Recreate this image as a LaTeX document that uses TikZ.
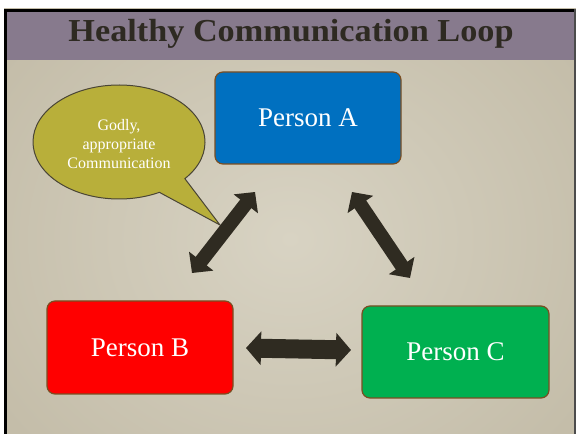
\documentclass[tikz,border=0pt]{standalone}
\usepackage{fontspec}
\setmainfont{Liberation Serif}
\usetikzlibrary{arrows.meta,shapes.geometric,calc}
\definecolor{bgbeige}{HTML}{D8D3C3}
\definecolor{bgedge}{HTML}{C4BDA9}
\definecolor{titlebar}{HTML}{877A8D}
\definecolor{titletext}{HTML}{2E2A22}
\definecolor{boxblue}{HTML}{0070C0}
\definecolor{boxred}{HTML}{FF0000}
\definecolor{boxgreen}{HTML}{00B050}
\definecolor{boxborder}{HTML}{7A4E22}
\definecolor{bubblefill}{HTML}{B8AF3A}
\definecolor{bubbleline}{HTML}{4A4535}
\definecolor{arrowdark}{HTML}{2F2B21}
\tikzset{
  personbox/.style={draw=boxborder, line width=1.2pt, rounded corners=8pt,
    minimum width=186pt, minimum height=92pt, text=white, inner sep=0pt,
    font=\fontsize{27}{30}\selectfont},
  blockarrow/.style={draw=arrowdark, line width=14pt,
    {Triangle[width=30pt,length=15pt]}-{Triangle[width=30pt,length=15pt]}},
}
\begin{document}
\begin{tikzpicture}[x=1pt,y=1pt]
\useasboundingbox (0,0) rectangle (576,434);
% background
\fill[white] (0,0) rectangle (576,434);
\begin{scope}
\clip (4,0) rectangle (576,425);
\shade[inner color=bgbeige, outer color=bgedge] (-60,-110) rectangle (640,500);
\end{scope}
% frame
\fill[black] (4,0) rectangle (7,425);
\fill[black] (4,422) rectangle (576,425);
\fill[black!70] (574,0) rectangle (576,425);
% title bar
\fill[titlebar] (7,374) rectangle (574,422);
\node[font=\bfseries\fontsize{32}{36}\selectfont, text=titletext] (title) at (291,400) {\scalebox{1.07}[1]{Healthy Communication Loop}};
% person boxes
\node[personbox, fill=boxblue] (A) at (308,316) {Person A};
\node[personbox, fill=boxred, minimum height=93pt] (B) at (140,86.5) {Person B};
\node[personbox, fill=boxgreen, minimum width=187pt] (C) at (455.5,82) {Person C};
% speech bubble
\coordinate (bubblecenter) at (119,292);
\coordinate (tailtip) at (220,209);
\fill[bubblefill, draw=bubbleline, line width=1pt]
  ($(bubblecenter)+(-40:86 and 57)$) arc[start angle=-40, end angle=298, x radius=86, y radius=57]
  -- (tailtip) -- cycle;
\node[text=white, align=center, font=\fontsize{16}{19}\selectfont] (bubble) at (119,290)
  {Godly,\\appropriate\\Communication};
% arrows
\coordinate (abB) at (192,161);
\coordinate (abA) at (255,242);
\coordinate (acA) at (352,242);
\coordinate (acC) at (410,156);
\coordinate (bcB) at (246,86);
\coordinate (bcC) at (351,84);
\draw[blockarrow] (abB) -- (abA);
\draw[blockarrow] (acA) -- (acC);
\draw[blockarrow, line width=19pt, {Triangle[width=33pt,length=15pt]}-{Triangle[width=33pt,length=15pt]}] (bcB) -- (bcC);
\end{tikzpicture}
\end{document}
